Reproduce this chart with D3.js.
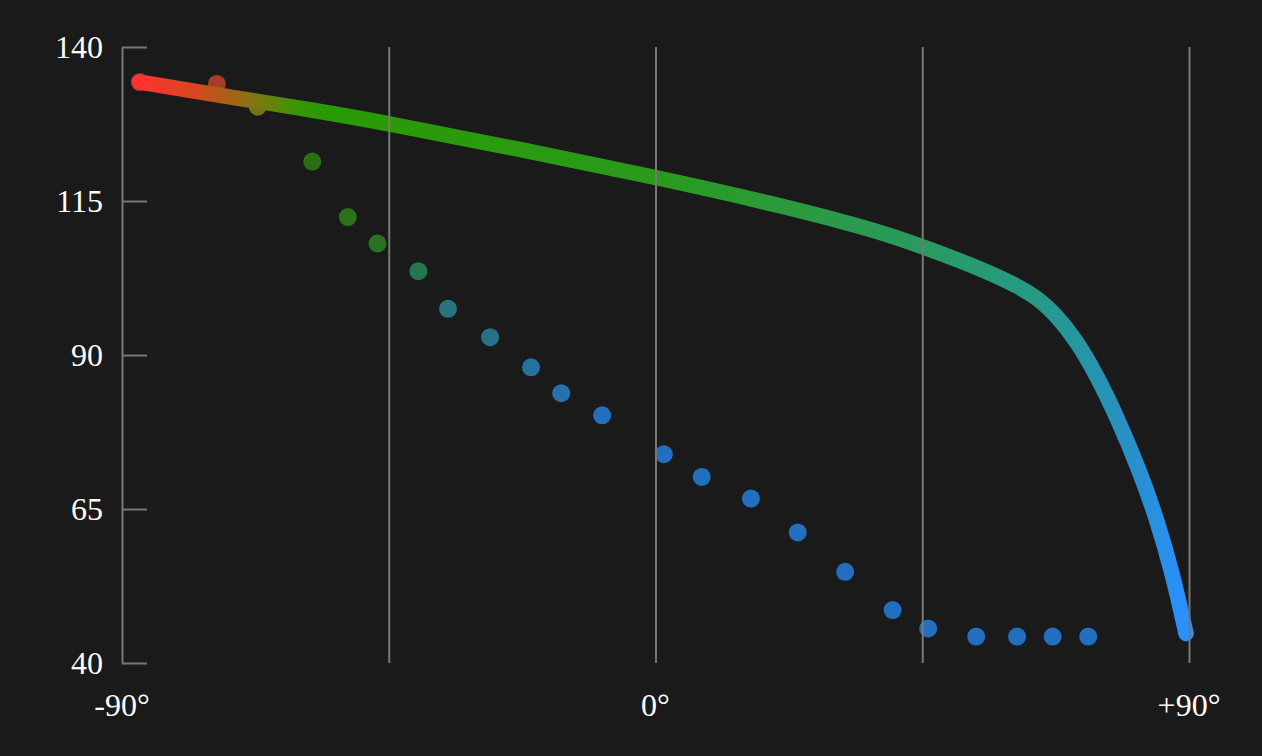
<!DOCTYPE html>
<html>
<head>
<meta charset="utf-8">
<script src="https://cdn.jsdelivr.net/npm/d3@7"></script>
<style>
  body { margin: 0; background: #1a1a1a; }
  text { font-family: "Liberation Serif", "DejaVu Serif", serif; }
</style>
</head>
<body>
<div id="chart"></div>
<script>
// axis ticks
var yTicks = [40, 65, 90, 115, 140];
var xLabels = [-90, 0, 90];
var xGrid = [-45, 0, 45, 90];

// thick curve (angle in degrees, value)
var curveAngle = [-87, -70, -58, -45, -22.5, 0, 22.5, 38, 45, 55, 61.5, 64.5, 67.5, 71, 74.5, 78, 81.5, 84.5, 87.2, 89.5];
var curveValue = [134.3, 131.6, 129.8, 127.6, 123.3, 118.9, 114.0, 110.0, 107.6, 104.0, 101.0, 99.2, 96.6, 92.4, 86.6, 79.6, 71.6, 63.6, 54.6, 44.8];

// measured points
var dotAngle = [-87, -74, -67.1, -57.9, -51.9, -46.9, -40, -35, -27.9, -21, -15.9, -9, 1.4, 7.8, 16.1, 24, 32, 40, 46, 54.1, 61, 67, 73];
var dotValue = [134.3, 134.0, 130.3, 121.4, 112.4, 108.1, 103.6, 97.5, 92.9, 88.0, 83.8, 80.2, 73.9, 70.2, 66.7, 61.2, 54.8, 48.6, 45.6, 44.3, 44.3, 44.3, 44.3];

// colour stops
var lineStopAngle = [-87, -78, -68, -61, -56, 0, 38, 50, 65, 72, 80, 89.4];
var lineStopColor = ["#ff3333", "#d8461f", "#857410", "#3c9406", "#2a9a02", "#2a9a1c", "#2a9a55", "#289a6a", "#259a88", "#2596a4", "#2890c8", "#2a8fff"];
var dotStopAngle = [-76, -67, -58, -47, -40, -35, -27, -18, -10];
var dotStopColor = ["#f03931", "#9a9020", "#319211", "#2f9422", "#2a9a61", "#2c98a2", "#2d92b6", "#2c92e0", "#2790ff"];

var width = 1262;
var height = 756;
var gridColor = "#777777";

var svg = d3.select("#chart").append("svg")
    .attr("width", width)
    .attr("height", height)
    .style("background", "#1a1a1a");

var x = d3.scaleLinear().domain([-90, 90]).range([122, 1189]);
var y = d3.scaleLinear().domain([40, 140]).range([663, 47]);

var dotColor = d3.scaleLinear().domain(dotStopAngle).range(dotStopColor).clamp(true);

// gradient along the x direction
var grad = svg.append("defs").append("linearGradient")
    .attr("id", "lineGrad")
    .attr("gradientUnits", "userSpaceOnUse")
    .attr("x1", x(-90)).attr("x2", x(90))
    .attr("y1", 0).attr("y2", 0);

grad.selectAll("stop")
    .data(lineStopAngle)
    .enter().append("stop")
    .attr("offset", function (a) { return (a + 90) / 180; })
    .attr("stop-color", function (a, i) { return lineStopColor[i]; });

// dots
svg.append("g").selectAll("circle")
    .data(dotAngle)
    .enter().append("circle")
    .attr("cx", function (a) { return x(a); })
    .attr("cy", function (a, i) { return y(dotValue[i]); })
    .attr("r", 9)
    .attr("fill", function (a) { return dotColor(a); })
    .attr("fill-opacity", 0.72);

// thick line
var line = d3.line()
    .x(function (a) { return x(a); })
    .y(function (a, i) { return y(curveValue[i]); })
    .curve(d3.curveBasis);

svg.append("path")
    .datum(curveAngle)
    .attr("d", line)
    .attr("fill", "none")
    .attr("stroke", "url(#lineGrad)")
    .attr("stroke-width", 15.5)
    .attr("stroke-linecap", "round")
    .attr("stroke-linejoin", "round");

// vertical grid
var grid = svg.append("g")
    .attr("transform", "translate(0," + y(40) + ")")
    .call(d3.axisBottom(x).tickValues(xGrid).tickSize(-(y(40) - y(140))).tickFormat(""));
grid.select(".domain").remove();
grid.selectAll("line").attr("stroke", gridColor).attr("stroke-width", 2);

// y axis
var yAxis = svg.append("g")
    .attr("transform", "translate(" + x(-90) + ",0)")
    .call(d3.axisLeft(y).tickValues(yTicks).tickSize(-25).tickSizeOuter(0).tickPadding(19));
yAxis.select(".domain").attr("stroke", gridColor).attr("stroke-width", 2);
yAxis.selectAll("line").attr("stroke", gridColor).attr("stroke-width", 2);
yAxis.selectAll("text")
    .attr("fill", "#ffffff")
    .attr("dy", "0.34em")
    .style("font-size", "32px");

// x labels
svg.append("g").selectAll("text")
    .data(xLabels)
    .enter().append("text")
    .attr("x", function (a) { return x(a); })
    .attr("y", 716)
    .attr("text-anchor", "middle")
    .attr("fill", "#ffffff")
    .style("font-size", "32px")
    .text(function (a) { return (a > 0 ? "+" : a < 0 ? "-" : "") + Math.abs(a) + "°"; });
</script>
</body>
</html>
